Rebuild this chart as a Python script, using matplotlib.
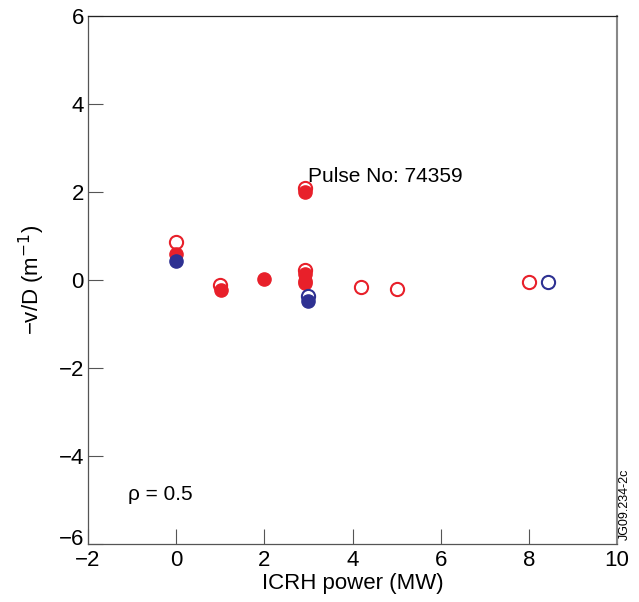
import matplotlib.pyplot as plt
from matplotlib.transforms import ScaledTranslation

plt.rcParams['font.family'] = ['Liberation Sans', 'DejaVu Sans']

ROJO = '#e8202a'
AZUL = '#2e3192'

# abiertos rojos
x_rojo_abierto = [0.0, 1.0, 2.92, 2.92, 4.2, 5.0, 8.0]
y_rojo_abierto = [0.87, -0.12, 2.08, 0.22, -0.15, -0.2, -0.04]
# llenos rojos
x_rojo_lleno = [0.0, 1.02, 2.0, 2.92, 2.92, 2.92, 2.92]
y_rojo_lleno = [0.6, -0.22, 0.02, 2.0, 0.14, -0.02, -0.06]
# azules
x_azul_abierto = [3.0, 8.43]
y_azul_abierto = [-0.37, -0.04]
x_azul_lleno = [0.0, 3.0]
y_azul_lleno = [0.43, -0.47]

fig = plt.figure(figsize=(6.39, 6.02), dpi=100)
ax = fig.add_axes([88 / 639, 1 - 544 / 602, 529 / 639, 528 / 602])

ms = 9.5
ax.plot(x_rojo_lleno, y_rojo_lleno, 'o', color=ROJO, ms=ms, mec=ROJO, ls='none')
ax.plot(x_azul_lleno, y_azul_lleno, 'o', color=AZUL, ms=ms, mec=AZUL, ls='none')
ax.plot(x_rojo_abierto, y_rojo_abierto, 'o', mfc='none', mec=ROJO, mew=1.5, ms=ms, ls='none')
ax.plot(x_azul_abierto, y_azul_abierto, 'o', mfc='none', mec=AZUL, mew=1.5, ms=ms, ls='none')

ax.set_xlim(-2, 10)
ax.set_ylim(-6, 6)
ax.set_xticks(range(-2, 11, 2))
ax.set_yticks(range(-6, 7, 2))
ax.set_xticklabels(['\u22122', '0', '2', '4', '6', '8', '10'])
ax.set_yticklabels(['\u22126', '\u22124', '\u22122', '0', '2', '4', '6'])
ax.tick_params(direction='in', length=11, width=0.8, color='#555555', labelsize=16)
ax.tick_params(axis='x', pad=4)
ax.tick_params(axis='y', pad=3)
for s in ax.spines.values():
    s.set_color('#555555')
    s.set_linewidth(0.9)
ax.spines['top'].set_color('#222222')
ax.spines['right'].set_color('#888888')
ax.spines['right'].set_linewidth(1.5)

# el -6 del eje y queda un poco por encima de la esquina, como en el original
lab = ax.get_yticklabels()[0]
lab.set_transform(lab.get_transform() + ScaledTranslation(0, 5 / 72, fig.dpi_scale_trans))

ax.set_xlabel('ICRH power (MW)', fontsize=16, labelpad=2)
ax.set_ylabel('\u2212v/D (m$^{-1}$)', fontsize=16, labelpad=8)

ax.text(3.0, 2.36, 'Pulse No: 74359', fontsize=15, va='center', ha='left')
ax.text(-1.1, -4.87, '\u03c1 = 0.5', fontsize=15, va='center', ha='left')
fig.text(625 / 639, 1 - 540 / 602, 'JG09.234-2c', rotation=90, fontsize=9,
         va='bottom', ha='center')

fig.savefig('out.png', dpi=100)
